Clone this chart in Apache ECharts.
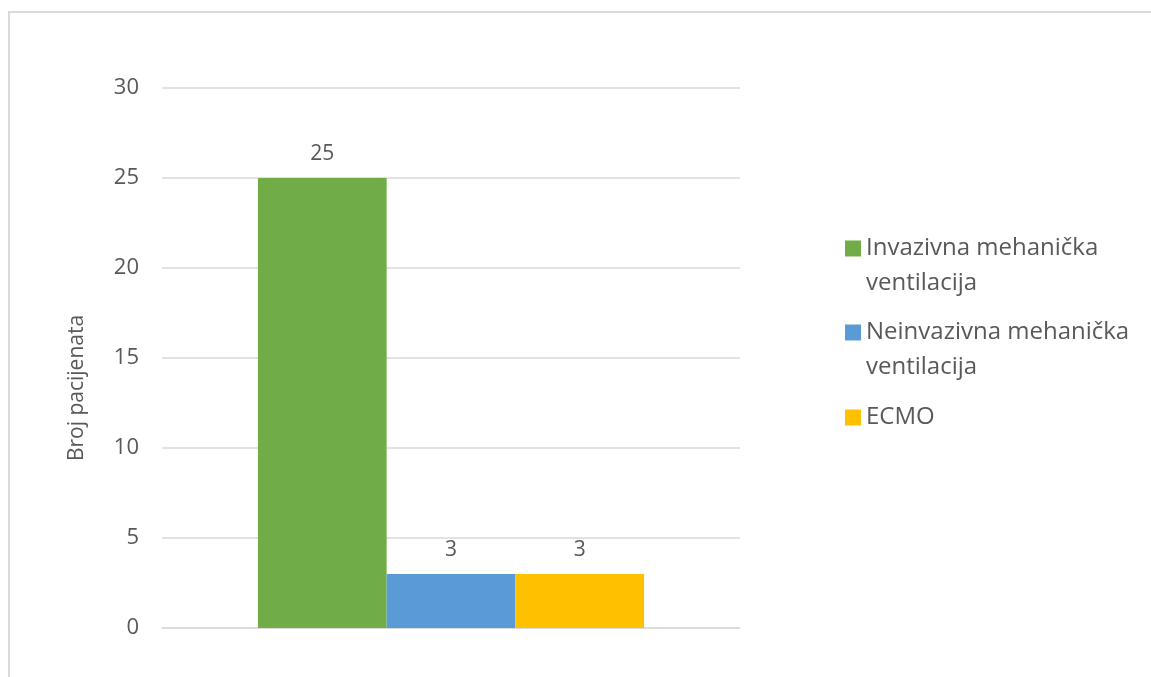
<!DOCTYPE html>
<html>
<head>
<meta charset="utf-8">
<script src="https://cdn.jsdelivr.net/npm/echarts@6/dist/echarts.min.js"></script>
<style>
html,body{margin:0;padding:0;background:#fff;}
#wrap{position:relative;width:1151px;height:677px;overflow:hidden;}
#frame{position:absolute;left:8px;top:11px;width:1200px;height:720px;border:2px solid #d9d9d9;box-sizing:border-box;}
#chart{position:absolute;left:0;top:0;width:1151px;height:677px;}
</style>
</head>
<body>
<div id="wrap"><div id="frame"></div><div id="chart"></div></div>
<script>
const categories = [''];
const seriesNames = ['Invazivna mehanička\nventilacija', 'Neinvazivna mehanička\nventilacija', 'ECMO'];
const invazivna = [25];
const neinvazivna = [3];
const ecmo = [3];
const yTicks = [0, 5, 10, 15, 20, 25, 30];
const yAxisName = 'Broj pacijenata';
const colors = ['#70ad47', '#5b9bd5', '#ffc000'];

const FONT = 'Open Sans';
const TXT = '#595959';
const FS = 21;
const LFS = 24;

const values = [invazivna, neinvazivna, ecmo];
const legendTops = [196, 280, 400];

const chart = echarts.init(document.getElementById('chart'));
chart.setOption({
  animation: false,
  textStyle: { fontFamily: FONT, color: TXT },
  grid: { left: 162, right: 411, top: 88, bottom: 49 },
  legend: seriesNames.map((n, i) => ({
    left: 845,
    top: legendTops[i],
    padding: 0,
    itemWidth: 16,
    itemHeight: 16,
    icon: 'rect',
    data: [n],
    formatter: name => (name.indexOf('\n') >= 0 ? '\u00a0\n' + name : name),
    textStyle: { fontFamily: FONT, fontSize: LFS, color: TXT, lineHeight: 35 }
  })),
  xAxis: {
    type: 'category',
    data: categories,
    axisLine: { show: true, lineStyle: { color: '#d9d9d9', width: 1.5 } },
    axisTick: { show: false },
    axisLabel: { show: false }
  },
  yAxis: {
    type: 'value',
    min: yTicks[0],
    max: yTicks[yTicks.length - 1],
    interval: 5,
    name: yAxisName,
    nameLocation: 'middle',
    nameGap: 74,
    nameTextStyle: { fontFamily: FONT, fontSize: FS, color: TXT, padding: [0, 60, 0, 0] },
    axisLine: { show: false },
    axisTick: { show: false },
    axisLabel: { fontFamily: FONT, fontSize: 22, color: TXT, margin: 23 },
    splitLine: { lineStyle: { color: '#d9d9d9', width: 1.5 } }
  },
  series: seriesNames.map((n, i) => ({
    name: n,
    type: 'bar',
    data: values[i],
    barGap: '0%',
    barCategoryGap: '33.2%',
    itemStyle: { color: colors[i] },
    label: { show: true, position: 'top', distance: 13, fontFamily: FONT, fontSize: FS, color: TXT }
  }))
});
</script>
</body>
</html>
